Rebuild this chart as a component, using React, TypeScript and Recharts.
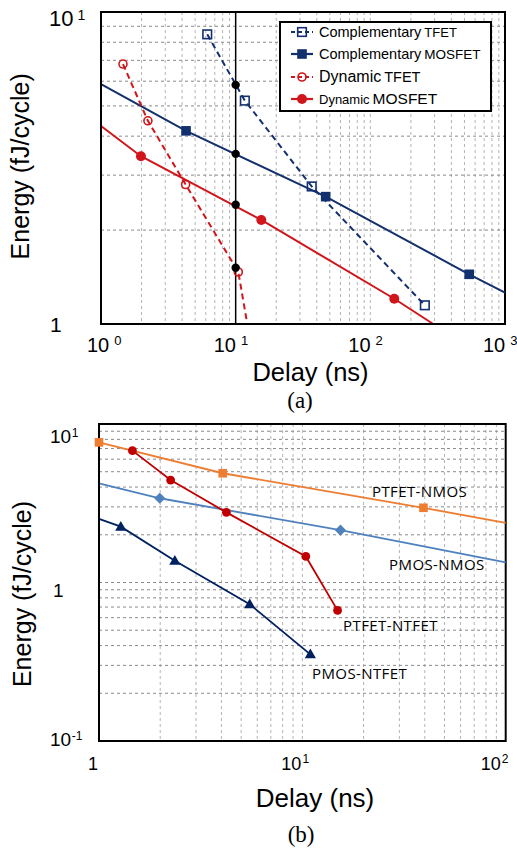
import React from 'react';
import {
  ComposedChart,
  Line,
  XAxis,
  YAxis,
  CartesianGrid,
  ReferenceArea,
  ReferenceDot,
  Legend,
} from 'recharts';

const FONT = '"Liberation Sans", Arial, sans-serif';
const SERIF = '"Liberation Serif", "Times New Roman", serif';
const LABEL_FONT = '"Open Sans", "Noto Sans", sans-serif';

// ---------------- Chart (a) ----------------
const aDelayTicks = [1, 10, 100, 1000];
const aEnergyTicks = [1, 10];
const aGridDelay = [2, 3, 4, 5, 6, 7, 8, 9, 20, 30, 40, 50, 60, 70, 80, 90, 100, 200, 300, 400, 500, 600, 700, 800, 900];
const aGridEnergy = [2, 3, 4, 5, 6, 7, 8, 9];

const compTfetDelay = [6.15, 11.7, 36.7, 254];
const compTfetEnergy = [8.48, 5.2, 2.76, 1.148];
const compTfetMarked = [true, true, true, true];

const compMosDelay = [1, 4.28, 46.6, 542, 1000];
const compMosEnergy = [5.87, 4.16, 2.56, 1.443, 1.26];
const compMosMarked = [false, true, true, true, false];

const dynTfetDelay = [1.456, 2.23, 4.25, 10.46, 12.2];
const dynTfetEnergy = [6.81, 4.48, 2.8, 1.468, 1.0];
const dynTfetMarked = [true, true, true, true, false];

const dynMosDelay = [1, 1.98, 15.5, 150.6, 293];
const dynMosEnergy = [4.31, 3.45, 2.155, 1.205, 1.0];
const dynMosMarked = [false, true, true, true, false];

const refDelay = [10, 10];
const refEnergy = [1, 10];
const crossDelay = [10, 10, 10, 10];
const crossEnergy = [5.84, 3.51, 2.41, 1.515];

// ---------------- Chart (b) ----------------
const bDelayTicks = [1, 10, 100];
const bEnergyTicks = [0.1, 1, 10];
const bGridDelay = [2, 3, 4, 5, 6, 7, 8, 9, 10, 20, 30, 40, 50, 60, 70, 80, 90];
const bGridEnergy = [0.2, 0.3, 0.4, 0.5, 0.6, 0.7, 0.8, 0.9, 1, 2, 3, 4, 5, 6, 7, 8, 9];

const ptfetNmosDelay = [1, 4.06, 39.4, 100];
const ptfetNmosEnergy = [7.66, 4.89, 2.96, 2.38];
const ptfetNmosMarked = [true, true, true, false];

const pmosNmosDelay = [1, 1.99, 15.4, 100];
const pmosNmosEnergy = [4.22, 3.4, 2.14, 1.34];
const pmosNmosMarked = [false, true, true, false];

const ptfetNtfetDelay = [1.46, 2.25, 4.23, 10.4, 14.9];
const ptfetNtfetEnergy = [6.79, 4.43, 2.77, 1.46, 0.667];
const ptfetNtfetMarked = [true, true, true, true, true];

const pmosNtfetDelay = [1, 1.28, 2.36, 5.51, 10.95];
const pmosNtfetEnergy = [2.52, 2.25, 1.373, 0.729, 0.352];
const pmosNtfetMarked = [false, true, true, true, true];

const bLabelNames = ['PTFET-NMOS', 'PMOS-NMOS', 'PTFET-NTFET', 'PMOS-NTFET'];
const bLabelDelay = [22.0, 26.7, 15.86, 11.16];
const bLabelEnergy = [3.46, 1.2, 0.494, 0.246];

// colors
const NAVY = '#13306E';
const RED = '#D0161B';
const B_ORANGE = '#ED7D31';
const B_BLUE = '#4F81BD';
const B_RED = '#C00000';
const B_NAVY = '#002060';

type Pt = { x: number; y: number; m: boolean };
const zip = (xs: number[], ys: number[], ms?: boolean[]): Pt[] =>
  xs.map((x, i) => ({ x, y: ys[i], m: ms ? ms[i] : true }));

function drawMarker(kind: string, cx: number, cy: number, color: string, key?: string) {
  switch (kind) {
    case 'openSquare':
      return <rect key={key} x={cx - 4.3} y={cy - 4.3} width={8.6} height={8.6} fill="none" stroke={color} strokeWidth={1.6} />;
    case 'square':
      return <rect key={key} x={cx - 4.8} y={cy - 4.8} width={9.6} height={9.6} fill={color} />;
    case 'openCircle':
      return <circle key={key} cx={cx} cy={cy} r={4} fill="none" stroke={color} strokeWidth={1.6} />;
    case 'circle':
      return <circle key={key} cx={cx} cy={cy} r={5} fill={color} />;
    case 'dot':
      return <circle key={key} cx={cx} cy={cy} r={4.2} fill="#000" />;
    case 'bSquare':
      return <rect key={key} x={cx - 4.3} y={cy - 4.3} width={8.6} height={8.6} fill={color} />;
    case 'bCircle':
      return <circle key={key} cx={cx} cy={cy} r={4.4} fill={color} />;
    case 'diamond':
      return <polygon key={key} points={`${cx},${cy - 5.6} ${cx + 5.6},${cy} ${cx},${cy + 5.6} ${cx - 5.6},${cy}`} fill={color} />;
    case 'triangle':
      return <polygon key={key} points={`${cx},${cy - 5.8} ${cx + 5.6},${cy + 4} ${cx - 5.6},${cy + 4}`} fill={color} />;
    default:
      return <g key={key} />;
  }
}

const makeDot = (kind: string, color: string) => (props: any) => {
  const { cx, cy, payload, index } = props;
  if (!payload || payload.m === false || cx == null || cy == null) return <g key={`e${index}`} />;
  return drawMarker(kind, cx, cy, color, `m${index}`);
};

// ---------- ticks ----------
const TopXTick = (props: any) => {
  const { x, y, payload } = props;
  const exp = Math.round(Math.log10(payload.value));
  const dx = payload.value === 1 ? -14 : -22;
  return (
    <text x={x + dx} y={y + 28} fontFamily={FONT} fontSize={20} fill="#000">
      10
      <tspan dx={5} dy={-7} fontSize={13}>
        {exp}
      </tspan>
    </text>
  );
};

const TopYTick = (props: any) => {
  const { x, y, payload } = props;
  if (payload.value === 1) {
    return (
      <text x={x - 51} y={y + 8} fontFamily={FONT} fontSize={21} fill="#000">
        1
      </text>
    );
  }
  return (
    <text x={x - 52} y={y + 14} fontFamily={FONT} fontSize={22} fill="#000">
      10
      <tspan dx={4} dy={-6} fontSize={14}>
        1
      </tspan>
    </text>
  );
};

const BotXTick = (props: any) => {
  const { x, y, payload } = props;
  const v = payload.value;
  if (v === 1) {
    return (
      <text x={x - 11} y={y + 29} fontFamily={FONT} fontSize={18} fill="#000">
        1
      </text>
    );
  }
  const exp = Math.round(Math.log10(v));
  const dx = v === 100 ? -25 : -21;
  return (
    <text x={x + dx} y={y + 29} fontFamily={FONT} fontSize={18} fill="#000">
      10
      <tspan dx={1} dy={-7} fontSize={12}>
        {exp}
      </tspan>
    </text>
  );
};

const BotYTick = (props: any) => {
  const { x, y, payload } = props;
  const v = payload.value;
  if (v === 1) {
    return (
      <text x={x - 46} y={y + 14} fontFamily={FONT} fontSize={19} fill="#000">
        1
      </text>
    );
  }
  const exp = Math.round(Math.log10(v));
  const dy = v === 10 ? 18.7 : 5;
  return (
    <text x={x - 49} y={y + dy} fontFamily={FONT} fontSize={19} fill="#000">
      10
      <tspan dx={0.5} dy={-6} fontSize={12}>
        {exp < 0 ? '-1' : String(exp)}
      </tspan>
    </text>
  );
};

// ---------- axis titles ----------
const topXTitle = (props: any) => {
  const vb = props.viewBox || {};
  const cx = vb.x + vb.width / 2;
  return (
    <g>
      <text x={cx + 7.5} y={vb.y + 57} textAnchor="middle" fontFamily={FONT} fontSize={25.5} fill="#000">
        Delay (ns)
      </text>
      <text x={cx - 3} y={vb.y + 84} textAnchor="middle" fontFamily={SERIF} fontSize={23} fill="#000">
        (a)
      </text>
    </g>
  );
};

const botXTitle = (props: any) => {
  const vb = props.viewBox || {};
  const cx = vb.x + vb.width / 2;
  return (
    <g>
      <text x={cx + 12.7} y={vb.y + 65.7} textAnchor="middle" fontFamily={FONT} fontSize={26} fill="#000">
        Delay (ns)
      </text>
      <text x={cx - 1.3} y={vb.y + 101} textAnchor="middle" fontFamily={SERIF} fontSize={23} fill="#000">
        (b)
      </text>
    </g>
  );
};

const yTitle = (shift: number, bx: number) => (props: any) => {
  const vb = props.viewBox || {};
  const cy = vb.y + vb.height / 2 + shift;
  const x = vb.x + bx;
  return (
    <text x={x} y={cy} transform={`rotate(-90 ${x} ${cy})`} textAnchor="middle" fontFamily={FONT} fontSize={25} fill="#000">
      Energy (fJ/cycle)
    </text>
  );
};

// ---------- legend ----------
const legendRows = [
  { kind: 'openSquare', color: NAVY, dash: '4 3', main: 'Complementary', mainSize: 14.5, sub: 'TFET', subSize: 13 },
  { kind: 'square', color: NAVY, dash: undefined, main: 'Complementary', mainSize: 14.5, sub: 'MOSFET', subSize: 13.5 },
  { kind: 'openCircle', color: RED, dash: '4 3', main: 'Dynamic', mainSize: 16, sub: 'TFET', subSize: 14.5 },
  { kind: 'circle', color: RED, dash: undefined, main: 'Dynamic', mainSize: 13, sub: 'MOSFET', subSize: 15.5 },
];

const LegendBox = () => (
  <div
    style={{
      width: 213,
      height: 91,
      boxSizing: 'border-box',
      border: '2px solid #000',
      background: '#fff',
      position: 'relative',
      fontFamily: FONT,
      color: '#000',
    }}
  >
    {legendRows.map((r, i) => (
      <div key={i} style={{ position: 'absolute', left: 0, top: -0.7 + 22.3 * i, height: 20, width: 209 }}>
        <svg width={24} height={20} style={{ position: 'absolute', left: 9.5, top: 0 }}>
          <line x1={0} y1={10} x2={22} y2={10} stroke={r.color} strokeWidth={2.2} strokeDasharray={r.dash} />
          {drawMarker(r.kind, 11, 10, r.color)}
        </svg>
        <div style={{ position: 'absolute', left: 38, top: 0, height: 20, lineHeight: '20px', whiteSpace: 'nowrap' }}>
          <span style={{ fontSize: r.mainSize }}>{r.main}</span>
          <span style={{ fontSize: r.subSize, marginLeft: 3 }}>{r.sub}</span>
        </div>
      </div>
    ))}
  </div>
);

const textShape = (name: string) => (p: any) => (
  <text x={p.cx} y={p.cy} fontFamily={LABEL_FONT} fontSize={15} letterSpacing={0.4} fill="#000">
    {name}
  </text>
);

export default function App() {
  const compTfet = zip(compTfetDelay, compTfetEnergy, compTfetMarked);
  const compMos = zip(compMosDelay, compMosEnergy, compMosMarked);
  const dynTfet = zip(dynTfetDelay, dynTfetEnergy, dynTfetMarked);
  const dynMos = zip(dynMosDelay, dynMosEnergy, dynMosMarked);
  const refLine = zip(refDelay, refEnergy, [false, false]);
  const cross = zip(crossDelay, crossEnergy);

  const ptfetNmos = zip(ptfetNmosDelay, ptfetNmosEnergy, ptfetNmosMarked);
  const pmosNmos = zip(pmosNmosDelay, pmosNmosEnergy, pmosNmosMarked);
  const ptfetNtfet = zip(ptfetNtfetDelay, ptfetNtfetEnergy, ptfetNtfetMarked);
  const pmosNtfet = zip(pmosNtfetDelay, pmosNtfetEnergy, pmosNtfetMarked);

  return (
    <div style={{ position: 'absolute', left: 0, top: 0, width: 517, height: 852, background: '#fff' }}>
      <div style={{ position: 'absolute', left: 0, top: 0 }}>
        <ComposedChart width={517} height={420} margin={{ top: 12, right: 12, left: 41, bottom: 66 }}>
          <CartesianGrid horizontal={false} verticalValues={aGridDelay} stroke="#b4b4b4" strokeDasharray="3 3" strokeWidth={1} />
          <CartesianGrid vertical={false} horizontalValues={aGridEnergy} stroke="#8a8a8a" strokeDasharray="3 3" strokeWidth={1} />
          <XAxis
            dataKey="x"
            type="number"
            scale="log"
            domain={[1, 1000]}
            ticks={aDelayTicks}
            interval={0}
            tickSize={0}
            tickMargin={0}
            height={30}
            tickLine={false}
            axisLine={{ stroke: '#000', strokeWidth: 2 }}
            tick={(p: any) => <TopXTick {...p} />}
            label={topXTitle}
          />
          <YAxis
            dataKey="y"
            type="number"
            scale="log"
            domain={[1, 10]}
            ticks={aEnergyTicks}
            interval={0}
            tickSize={0}
            tickMargin={0}
            width={60}
            tickLine={false}
            axisLine={{ stroke: '#000', strokeWidth: 2 }}
            tick={(p: any) => <TopYTick {...p} />}
            label={yTitle(-1.7, -12)}
          />
          <ReferenceArea x1={1} x2={1000} y1={1} y2={10} fill="none" stroke="#000" strokeWidth={2} />
          <Line data={refLine} dataKey="y" type="linear" stroke="#000" strokeWidth={1.5} dot={false} isAnimationActive={false} legendType="none" />
          <Line data={compMos} dataKey="y" type="linear" stroke={NAVY} strokeWidth={2} dot={makeDot('square', NAVY)} activeDot={false} isAnimationActive={false} />
          <Line data={compTfet} dataKey="y" type="linear" stroke={NAVY} strokeWidth={2} strokeDasharray="6 4" dot={makeDot('openSquare', NAVY)} activeDot={false} isAnimationActive={false} />
          <Line data={dynMos} dataKey="y" type="linear" stroke={RED} strokeWidth={2} dot={makeDot('circle', RED)} activeDot={false} isAnimationActive={false} />
          <Line data={dynTfet} dataKey="y" type="linear" stroke={RED} strokeWidth={2} strokeDasharray="6 4" dot={makeDot('openCircle', RED)} activeDot={false} isAnimationActive={false} />
          <Line data={cross} dataKey="y" type="linear" stroke="none" strokeWidth={0} dot={makeDot('dot', '#000')} activeDot={false} isAnimationActive={false} legendType="none" />
          <Legend
            layout="vertical"
            align="center"
            verticalAlign="middle"
            content={() => <LegendBox />}
            wrapperStyle={{ position: 'absolute', left: 279, top: 20.7, width: 213, height: 91 }}
          />
        </ComposedChart>
      </div>

      <div style={{ position: 'absolute', left: 0, top: 420 }}>
        <ComposedChart width={517} height={432} margin={{ top: 4, right: 11.3, left: 39, bottom: 81 }}>
          <CartesianGrid horizontal={false} verticalValues={bGridDelay} stroke="#b4b4b4" strokeDasharray="3 3" strokeWidth={1} />
          <CartesianGrid vertical={false} horizontalValues={bGridEnergy} stroke="#8a8a8a" strokeDasharray="3 3" strokeWidth={1} />
          <XAxis
            dataKey="x"
            type="number"
            scale="log"
            domain={[1, 100]}
            ticks={bDelayTicks}
            interval={0}
            tickSize={0}
            tickMargin={0}
            height={30}
            tickLine={false}
            axisLine={{ stroke: '#000', strokeWidth: 2 }}
            tick={(p: any) => <BotXTick {...p} />}
            label={botXTitle}
          />
          <YAxis
            dataKey="y"
            type="number"
            scale="log"
            domain={[0.1, 10]}
            ticks={bEnergyTicks}
            interval={0}
            tickSize={0}
            tickMargin={0}
            width={60}
            tickLine={false}
            axisLine={{ stroke: '#000', strokeWidth: 2 }}
            tick={(p: any) => <BotYTick {...p} />}
            label={yTitle(11.5, -8)}
          />
          <ReferenceArea x1={1} x2={100} y1={0.1} y2={10} fill="none" stroke="#000" strokeWidth={2} />
          <Line data={ptfetNmos} dataKey="y" type="linear" stroke={B_ORANGE} strokeWidth={1.8} dot={makeDot('bSquare', B_ORANGE)} activeDot={false} isAnimationActive={false} />
          <Line data={pmosNmos} dataKey="y" type="linear" stroke={B_BLUE} strokeWidth={1.8} dot={makeDot('diamond', B_BLUE)} activeDot={false} isAnimationActive={false} />
          <Line data={ptfetNtfet} dataKey="y" type="linear" stroke={B_RED} strokeWidth={1.8} dot={makeDot('bCircle', B_RED)} activeDot={false} isAnimationActive={false} />
          <Line data={pmosNtfet} dataKey="y" type="linear" stroke={B_NAVY} strokeWidth={1.8} dot={makeDot('triangle', B_NAVY)} activeDot={false} isAnimationActive={false} />
          {bLabelNames.map((n, i) => (
            <ReferenceDot key={n} x={bLabelDelay[i]} y={bLabelEnergy[i]} r={0} shape={textShape(n)} />
          ))}
        </ComposedChart>
      </div>
    </div>
  );
}
